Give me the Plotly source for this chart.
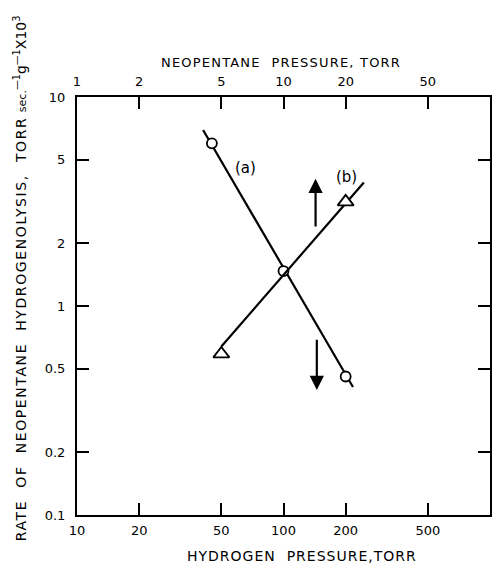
import math
import plotly.graph_objects as go

# ---- data ----
# series (a): rate vs hydrogen pressure (bottom axis)
a_hydrogen = [45, 100, 200]
a_rate = [6.0, 1.47, 0.46]
a_line_x = [40.8, 217]
a_line_y = [6.95, 0.41]

# series (b): rate vs neopentane pressure (top axis); the shared point at 10 Torr
# is hidden under the circle of series (a) in the reference
b_neopentane = [5, 20]
b_rate = [0.59, 3.15]
b_line_x = [5.0, 24.5]
b_line_y = [0.64, 3.9]

bottom_ticks = [10, 20, 50, 100, 200, 500]
bottom_labels = ["10", "20", "50", "100", "200", "500"]
top_ticks = [1, 2, 5, 10, 20, 50]
top_labels = ["1", "2", "5", "10", "20", "50"]
y_ticks = [0.1, 0.2, 0.5, 1, 2, 5, 10]
y_labels = ["0.1", "0.2", "0.5", "1", "2", "5", "10"]

FONT = "DejaVu Sans"
BLACK = "#000000"

fig = go.Figure()

# lines
fig.add_trace(go.Scatter(x=a_line_x, y=a_line_y, mode="lines",
                         line=dict(color=BLACK, width=2.2), xaxis="x", yaxis="y",
                         showlegend=False, hoverinfo="skip"))
fig.add_trace(go.Scatter(x=b_line_x, y=b_line_y, mode="lines",
                         line=dict(color=BLACK, width=2.2), xaxis="x2", yaxis="y",
                         showlegend=False, hoverinfo="skip"))
# markers
fig.add_trace(go.Scatter(x=b_neopentane, y=b_rate, mode="markers",
                         marker=dict(symbol="triangle-up", size=14, color="white",
                                     line=dict(color=BLACK, width=1.8)),
                         xaxis="x2", yaxis="y", showlegend=False))
fig.add_trace(go.Scatter(x=a_hydrogen, y=a_rate, mode="markers",
                         marker=dict(symbol="circle", size=10, color="white",
                                     line=dict(color=BLACK, width=1.8)),
                         xaxis="x", yaxis="y", showlegend=False))

tickfont = dict(family=FONT, size=13, color=BLACK)

fig.update_layout(
    width=494, height=565,
    margin=dict(l=77, r=2, t=97, b=50),
    paper_bgcolor="white", plot_bgcolor="white",
    font=dict(family=FONT, color=BLACK),
    xaxis=dict(type="log", range=[1, 3], tickvals=bottom_ticks, ticktext=bottom_labels,
               ticks="inside", ticklen=12, tickwidth=1.6, tickcolor=BLACK,
               showline=True, linewidth=2, linecolor=BLACK, mirror="ticks",
               showgrid=False, zeroline=False, tickfont=tickfont, ticklabelstandoff=2),
    xaxis2=dict(type="log", range=[0, 2], tickvals=top_ticks, ticktext=top_labels,
                overlaying="x", side="top", anchor="y", ticks="",
                showline=False, showgrid=False, zeroline=False, tickfont=tickfont,
                ticklabelstandoff=7),
    yaxis=dict(type="log", range=[-1, 1], tickvals=y_ticks, ticktext=y_labels,
               ticks="inside", ticklen=12, tickwidth=1.6, tickcolor=BLACK,
               showline=True, linewidth=2, linecolor=BLACK, mirror="ticks",
               showgrid=False, zeroline=False, tickfont=tickfont, ticklabelstandoff=7),
)

sp = "\u00a0\u00a0"
ytitle = ("<span style='letter-spacing:1.6px'>RATE" + sp + "OF" + sp + "NEOPENTANE" + sp
          + "HYDROGENOLYSIS," + sp + "TORR</span>" + "\u00a0"
          + "<span style='font-size:11px'>sec.</span><sup>—1</sup>g<sup>—1</sup>X10<sup>3</sup>")
toptitle = "<span style='letter-spacing:1.2px'>NEOPENTANE" + sp + "PRESSURE,\u00a0TORR</span>"
bottitle = "<span style='letter-spacing:1.0px'>HYDROGEN" + sp + "PRESSURE,TORR</span>"

annotations = [
    dict(text=toptitle, xref="paper", yref="paper",
         x=(282 - 77) / 415, y=(515 - 63) / 418, showarrow=False,
         font=dict(family=FONT, size=13, color=BLACK), xanchor="center", yanchor="middle"),
    dict(text=bottitle, xref="paper", yref="paper",
         x=(303 - 77) / 415, y=(515 - 556) / 418, showarrow=False,
         font=dict(family=FONT, size=14, color=BLACK), xanchor="center", yanchor="middle"),
    dict(text=ytitle, xref="paper", yref="paper", textangle=-90,
         x=(20 - 77) / 415, y=(515 - 278) / 418, showarrow=False,
         font=dict(family=FONT, size=14, color=BLACK), xanchor="center", yanchor="middle"),
    dict(text="(a)", xref="x", yref="y", x=math.log10(65.6), y=math.log10(4.57),
         showarrow=False, font=dict(family=FONT, size=15, color=BLACK)),
    dict(text="(b)", xref="x", yref="y", x=math.log10(201), y=math.log10(4.14),
         showarrow=False, font=dict(family=FONT, size=15, color=BLACK)),
    # arrows pointing to the relevant axis
    dict(text="", xref="x", yref="y", axref="x", ayref="y",
         x=math.log10(143), y=math.log10(4.06), ax=math.log10(143), ay=math.log10(2.36),
         showarrow=True, arrowhead=2, arrowsize=1.3, arrowwidth=2.2, arrowcolor=BLACK),
    dict(text="", xref="x", yref="y", axref="x", ayref="y",
         x=math.log10(145), y=math.log10(0.396), ax=math.log10(145), ay=math.log10(0.70),
         showarrow=True, arrowhead=2, arrowsize=1.3, arrowwidth=2.2, arrowcolor=BLACK),
]
fig.update_layout(annotations=annotations)

fig.write_html("out.html")
